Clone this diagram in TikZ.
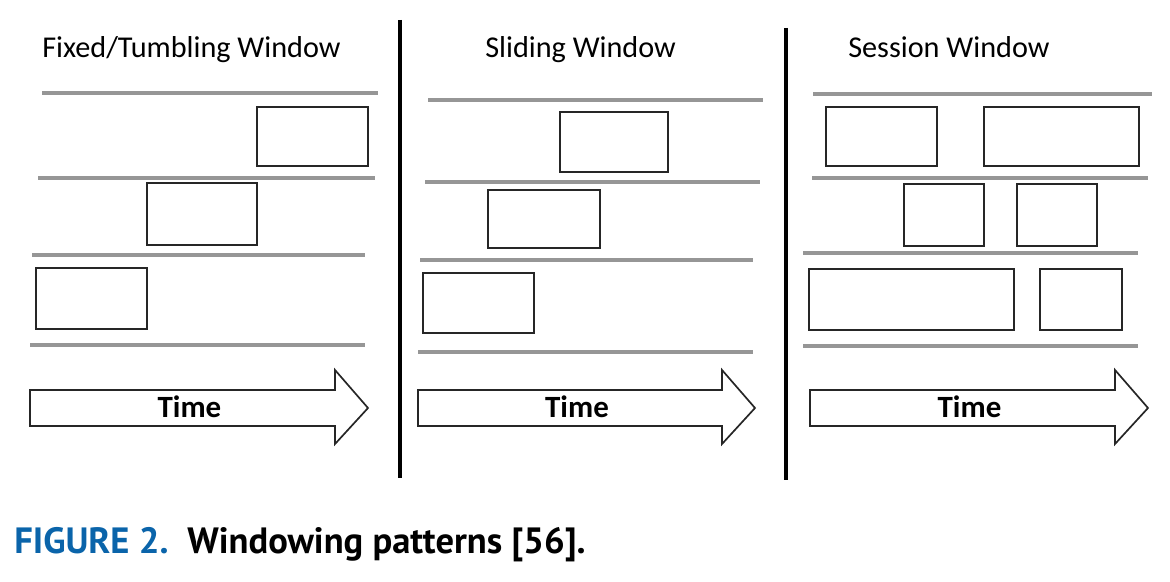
\documentclass[tikz,border=0pt]{standalone}
\usepackage{fontspec}
\setmainfont{Carlito}
\newfontfamily\capfont{PT Sans}
\usetikzlibrary{positioning}
\definecolor{capblue}{RGB}{10,100,170}
\definecolor{rulegray}{RGB}{150,150,150}

\begin{document}
\begin{tikzpicture}[x=0.025cm,y=-0.025cm,
    title/.style={anchor=base west,inner sep=0,font=\fontsize{21.5}{26}\selectfont},
    band/.style={draw=rulegray,line width=2.2pt},
    win/.style={draw=black!85,line width=1.3pt},
    divider/.style={draw=black,line width=2.8pt},
    timearrow/.style={draw=black!85,line width=1.2pt,line join=miter},
    timelabel/.style={inner sep=0,font=\bfseries\fontsize{22}{26}\selectfont}]
    \useasboundingbox (0,0) rectangle (1170,582);
    % panel titles
    \node[title] (fixed) at (42,58) {Fixed/Tumbling Window};
    \node[title] (sliding) at (485,58) {Sliding Window};
    \node[title] (session) at (848,58) {Session Window};
    % dividers
    \draw[divider] (400,20) -- (400,478);
    \draw[divider] (786,28) -- (786,480);
    % grey bands
    \draw[band] (42,93) -- (378,93);
    \draw[band] (38,178) -- (375,178);
    \draw[band] (32,255) -- (365,255);
    \draw[band] (30,345) -- (365,345);
    \draw[band] (428,100) -- (763,100);
    \draw[band] (425,182) -- (760,182);
    \draw[band] (420,260) -- (753,260);
    \draw[band] (418,352) -- (753,352);
    \draw[band] (813,94) -- (1152,94);
    \draw[band] (812,178) -- (1148,178);
    \draw[band] (803,253) -- (1138,253);
    \draw[band] (803,346) -- (1138,346);
    % fixed windows
    \draw[win] (257,107) rectangle (368,166);
    \draw[win] (147,183) rectangle (257,245);
    \draw[win] (36,268) rectangle (147,329);
    % sliding windows
    \draw[win] (560,112) rectangle (668,172);
    \draw[win] (488,190) rectangle (600,248);
    \draw[win] (423,273) rectangle (534,333);
    % session windows
    \draw[win] (826,107) rectangle (937,166);
    \draw[win] (984,107) rectangle (1139,166);
    \draw[win] (904,184) rectangle (984,246);
    \draw[win] (1017,184) rectangle (1097,246);
    \draw[win] (809,269) rectangle (1014,330);
    \draw[win] (1040,269) rectangle (1122,330);
    % time arrows
    \foreach \a/\b/\c/\n in {30/335/368/1, 418/722/755/2, 810/1115/1148/3}{
        \draw[timearrow] (\a,390) -- (\b,390) -- (\b,370) -- (\c,408)
            -- (\b,444) -- (\b,426) -- (\a,426) -- cycle;
        \node[timelabel] (time\n) at ({(\a+\b)/2+7},407) {Time};
    }
    % caption
    \node[anchor=base west,inner sep=0,font=\capfont\bfseries\fontsize{26}{30}\selectfont,text=capblue]
        (fignum) at (14,553) {FIGURE 2.};
    \node[anchor=base west,inner sep=0,font=\capfont\bfseries\fontsize{26}{30}\selectfont]
        (figcap) at (187,553) {Windowing patterns [56].};
\end{tikzpicture}
\end{document}
